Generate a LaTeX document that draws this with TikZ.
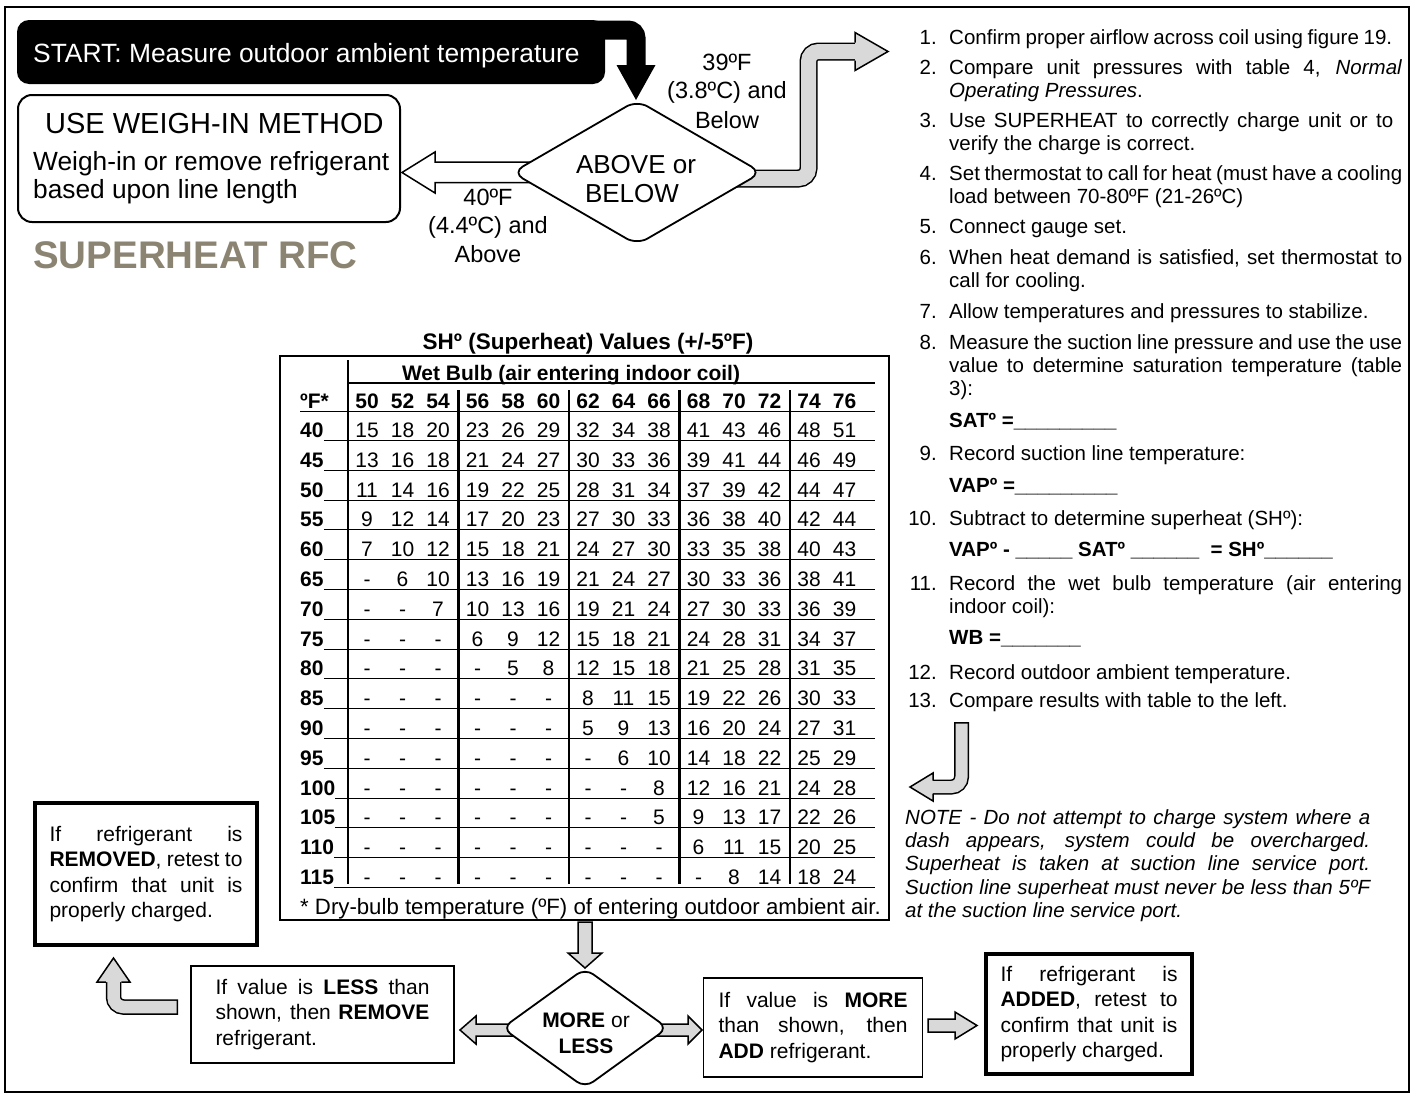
\documentclass[tikz,border=0pt]{standalone}
\usepackage{fontspec}
\setmainfont{Liberation Sans}
\usetikzlibrary{shapes.geometric}
\definecolor{agray}{RGB}{217,217,217}
\definecolor{shcol}{RGB}{140,132,114}
\newcommand\myfs[1]{\fontsize{#1}{#1}\selectfont}
\newcommand\jline[2]{\makebox[#1pt][s]{#2}}
\newcommand\shrow[3]{%
  \pgfmathsetmacro\yb{437.5+29.8*#1}%
  \node[tbb, anchor=base west] (lab#1) at (300,\yb) {#2};%
  \draw[line width=1pt] ([yshift=-3pt]lab#1.base east) -- (875,\yb+3);%
  \foreach \v [count=\c from 0] in {#3} {%
    \pgfmathtruncatemacro\g{\c/3}%
    \pgfmathsetmacro\xx{367+110.5*\g+35.5*(\c-3*\g)}%
    \node[tb] (v#1-\c) at (\xx,\yb) {\v};%
  }%
}
\tikzset{
 txt/.style={anchor=base west, inner sep=0pt, font=\myfs{20.5}},
 num/.style={anchor=base east, inner sep=0pt, font=\myfs{20.5}},
 fld/.style={anchor=base west, inner sep=0pt, font=\bfseries\myfs{20.5}},
 note/.style={anchor=base west, inner sep=0pt, font=\itshape\myfs{20.5}},
 tb/.style={anchor=base, inner sep=0pt, font=\myfs{21}},
 tbb/.style={anchor=base, inner sep=0pt, font=\bfseries\myfs{21}},
 lbl/.style={anchor=base, inner sep=0pt, font=\myfs{23.5}},
 dtxt/.style={anchor=base, inner sep=0pt, font=\myfs{26}},
 boxtxt/.style={draw, line width=1.5pt, align=left, inner sep=0pt, font=\fontsize{21}{25.5}\selectfont},
 blockarrow/.style={fill=agray, draw=black, line width=1.5pt},
 shaftout/.style={draw=black, line width=#1},
 shaftin/.style={draw=agray, line width=#1},
}
\begin{document}
\begin{tikzpicture}[x=1pt, y=-1pt, line join=miter]
\useasboundingbox (0,0) rectangle (1413,1095);
\draw[line width=1.5pt] (5,7) rectangle (1409,1092);

% ---------- START ----------
\node[fill=black, rounded corners=12pt, minimum width=588pt, minimum height=64pt, anchor=north west, inner sep=0pt, outer sep=0pt] (start) at (17,20) {};
\node[anchor=base west, inner sep=0pt, text=white, font=\myfs{26.4}] (starttxt) at (33,62) {START: Measure outdoor ambient temperature};
\draw[line width=19pt, rounded corners=8pt] (590,30) -- (636,30) -- (636,66);
\fill (616.5,65) -- (655.5,65) -- (636,100) -- cycle;

% ---------- arrows out of first decision ----------
\filldraw[fill=white, line width=1.5pt] (530,162) -- (435,162) -- (435,152) -- (402,172.5) -- (435,193) -- (435,182.5) -- (530,182.5) -- cycle;
\draw[shaftout=18pt, rounded corners=10pt] (735,178.5) -- (808.5,178.5) -- (808.5,51.5) -- (855,51.5);
\draw[shaftin=15pt, rounded corners=10pt, shorten >=-1pt] (735,178.5) -- (808.5,178.5) -- (808.5,51.5) -- (855,51.5);
\fill[agray] (855,32.5) -- (888,51.5) -- (855,70.5) -- cycle;
\draw[line width=1.5pt] (855,42.5) -- (855,32.5) -- (888,51.5) -- (855,70.5) -- (855,60.5);

% ---------- first decision ----------
\node[diamond, draw, fill=white, line width=1.8pt, minimum width=250pt, minimum height=145pt, inner sep=0pt, rounded corners=12pt] (dec1) at (637,172.5) {};
\node[dtxt] (dec1a) at (636,173) {ABOVE or};
\node[dtxt] (dec1b) at (632,202) {BELOW};

\node[lbl] (l39a) at (727,70) {39ºF};
\node[lbl] (l39b) at (727,98) {(3.8ºC) and};
\node[lbl] (l39c) at (727,128) {Below};
\node[lbl] (l40a) at (488,205) {40ºF};
\node[lbl] (l40b) at (488,233) {(4.4ºC) and};
\node[lbl] (l40c) at (488,262) {Above};

% ---------- weigh-in box ----------
\node[draw, line width=2pt, rounded corners=14pt, minimum width=382pt, minimum height=127pt, anchor=north west, inner sep=0pt, outer sep=0pt] (weigh) at (18,95) {};
\node[anchor=base west, inner sep=0pt, font=\myfs{29}] (w1) at (45,133) {USE WEIGH-IN METHOD};
\node[anchor=base west, inner sep=0pt, font=\myfs{26.3}] (w2) at (33,170) {Weigh-in or remove refrigerant};
\node[anchor=base west, inner sep=0pt, font=\myfs{26.3}] (w3) at (33,198) {based upon line length};
\node[anchor=base west, inner sep=0pt, font=\bfseries\myfs{38.5}, text=shcol] (rfc) at (33,268) {SUPERHEAT RFC};

% ---------- right column ----------
\node[num] (n1) at (937,44) {1.};
\node[txt] (t1) at (949,44) {\jline{443}{Confirm proper airflow across coil using figure 19.}};
\node[num] (n2) at (937,74) {2.};
\node[txt] (t2a) at (949,74) {\jline{453}{Compare unit pressures with table 4, \textit{Normal}}};
\node[txt] (t2b) at (949,97) {\textit{Operating Pressures}.};
\node[num] (n3) at (937,127) {3.};
\node[txt] (t3a) at (949,127) {\jline{444}{Use SUPERHEAT to correctly charge unit or to}};
\node[txt] (t3b) at (949,150) {verify the charge is correct.};
\node[num] (n4) at (937,180) {4.};
\node[txt] (t4a) at (949,180) {\jline{453}{Set thermostat to call for heat (must have a cooling}};
\node[txt] (t4b) at (949,203) {load between 70-80ºF (21-26ºC)};
\node[num] (n5) at (937,233) {5.};
\node[txt] (t5) at (949,233) {Connect gauge set.};
\node[num] (n6) at (937,264) {6.};
\node[txt] (t6a) at (949,264) {\jline{453}{When heat demand is satisfied, set thermostat to}};
\node[txt] (t6b) at (949,287) {call for cooling.};
\node[num] (n7) at (937,318) {7.};
\node[txt] (t7) at (949,318) {Allow temperatures and pressures to stabilize.};
\node[num] (n8) at (937,349) {8.};
\node[txt] (t8a) at (949,349) {\jline{453}{Measure the suction line pressure and use the use}};
\node[txt] (t8b) at (949,372) {\jline{453}{value to determine saturation temperature (table}};
\node[txt] (t8c) at (949,395) {3):};
\node[fld] (sat) at (949,427) {SATº =\_\_\_\_\_\_\_\_\_};
\node[num] (n9) at (937,460) {9.};
\node[txt] (t9) at (949,460) {Record suction line temperature:};
\node[fld] (vap) at (949,492) {VAPº =\_\_\_\_\_\_\_\_\_};
\node[num] (n10) at (937,525) {10.};
\node[txt] (t10) at (949,525) {Subtract to determine superheat (SHº):};
\node[fld] (eq) at (949,556) {VAPº - \_\_\_\_\_ SATº \_\_\_\_\_\_ \ = SHº\_\_\_\_\_\_};
\node[num] (n11) at (937,590) {11.};
\node[txt] (t11a) at (949,590) {\jline{453}{Record the wet bulb temperature (air entering}};
\node[txt] (t11b) at (949,613) {indoor coil):};
\node[fld] (wbf) at (949,644) {WB =\_\_\_\_\_\_\_};
\node[num] (n12) at (937,679) {12.};
\node[txt] (t12) at (949,679) {Record outdoor ambient temperature.};
\node[num] (n13) at (937,707) {13.};
\node[txt] (t13) at (949,707) {Compare results with table to the left.};

% bent arrow to note
\draw[shaftout=15pt, rounded corners=10pt] (961.5,722) -- (961.5,787) -- (933,787);
\draw[shaftin=12pt, rounded corners=10pt, shorten <=1.5pt, shorten >=-1pt] (961.5,722) -- (961.5,787) -- (933,787);
\fill[agray] (933,773) -- (910,787) -- (933,801) -- cycle;
\draw[line width=1.5pt] (933,780.5) -- (933,773) -- (910,787) -- (933,801) -- (933,793.5);

\node[note] (note1) at (905,824) {\jline{465}{NOTE - Do not attempt to charge system where a}};
\node[note] (note2) at (905,847) {\jline{465}{dash appears, system could be overcharged.}};
\node[note] (note3) at (905,870) {\jline{465}{Superheat is taken at suction line service port.}};
\node[note] (note4) at (905,894) {\jline{465}{Suction line superheat must never be less than 5ºF}};
\node[note] (note5) at (905,917) {at the suction line service port.};

% ---------- table ----------
\node[anchor=base, inner sep=0pt, font=\bfseries\myfs{22.5}] (ttitle) at (588,349) {SHº (Superheat) Values (+/-5ºF)};
\draw[line width=1.5pt] (280,356) rectangle (889,920);
\node[tbb] (wbhead) at (571,380) {Wet Bulb (air entering indoor coil)};
\draw[line width=2.5pt] (348,383) -- (875,383);
\node[tbb, anchor=base west] (hdrF) at (300,408) {ºF*};
\draw[line width=1pt] (300,411) -- (875,411);
\foreach \v [count=\c from 0] in {50,52,54,56,58,60,62,64,66,68,70,72,74,76} {
  \pgfmathtruncatemacro\g{\c/3}
  \pgfmathsetmacro\xx{367+110.5*\g+35.5*(\c-3*\g)}
  \node[tbb] (h\c) at (\xx,408) {\v};
}
\shrow{0}{40}{15,18,20,23,26,29,32,34,38,41,43,46,48,51}
\shrow{1}{45}{13,16,18,21,24,27,30,33,36,39,41,44,46,49}
\shrow{2}{50}{11,14,16,19,22,25,28,31,34,37,39,42,44,47}
\shrow{3}{55}{9,12,14,17,20,23,27,30,33,36,38,40,42,44}
\shrow{4}{60}{7,10,12,15,18,21,24,27,30,33,35,38,40,43}
\shrow{5}{65}{-,6,10,13,16,19,21,24,27,30,33,36,38,41}
\shrow{6}{70}{-,-,7,10,13,16,19,21,24,27,30,33,36,39}
\shrow{7}{75}{-,-,-,6,9,12,15,18,21,24,28,31,34,37}
\shrow{8}{80}{-,-,-,-,5,8,12,15,18,21,25,28,31,35}
\shrow{9}{85}{-,-,-,-,-,-,8,11,15,19,22,26,30,33}
\shrow{10}{90}{-,-,-,-,-,-,5,9,13,16,20,24,27,31}
\shrow{11}{95}{-,-,-,-,-,-,-,6,10,14,18,22,25,29}
\shrow{12}{100}{-,-,-,-,-,-,-,-,8,12,16,21,24,28}
\shrow{13}{105}{-,-,-,-,-,-,-,-,5,9,13,17,22,26}
\shrow{14}{110}{-,-,-,-,-,-,-,-,-,6,11,15,20,25}
\shrow{15}{115}{-,-,-,-,-,-,-,-,-,-,8,14,18,24}
\draw[line width=2.5pt] (348,360) -- (348,884);
\foreach \g in {1,2,3,4} {
  \draw[line width=2.5pt] ({348+110.5*\g},390) -- ({348+110.5*\g},884);
}
\node[anchor=base west, inner sep=0pt, font=\myfs{22.2}] (foot) at (300,914) {* Dry-bulb temperature (ºF) of entering outdoor ambient air.};

% ---------- bottom flow ----------
\filldraw[blockarrow] (578,922) -- (592,922) -- (592,953) -- (602,953) -- (585,968) -- (568,953) -- (578,953) -- cycle;
\filldraw[blockarrow] (525,1024) -- (476,1024) -- (476,1016) -- (460,1030) -- (476,1044) -- (476,1036) -- (525,1036) -- cycle;
\filldraw[blockarrow] (645,1024) -- (688,1024) -- (688,1016) -- (702,1030) -- (688,1044) -- (688,1036) -- (645,1036) -- cycle;
\node[diamond, draw, fill=white, line width=1.8pt, minimum width=166pt, minimum height=120pt, inner sep=0pt, rounded corners=10pt] (dec2) at (585,1028) {};
\node[anchor=base, inner sep=0pt, font=\myfs{21}] (dec2a) at (586,1027) {\textbf{MORE} or};
\node[anchor=base, inner sep=0pt, font=\myfs{21}] (dec2b) at (586,1053) {\textbf{LESS}};

\node[boxtxt, minimum width=263pt, minimum height=97pt] (less) at (322.5,1014.5)
  {\jline{214}{If value is \textbf{LESS} than}\\\jline{214}{shown, then \textbf{REMOVE}}\\refrigerant.};
\node[boxtxt, line width=4.5pt, minimum width=222pt, minimum height=142pt] (removed) at (146,874)
  {\jline{193}{If refrigerant is}\\\jline{193}{\textbf{REMOVED}, retest to}\\\jline{193}{confirm that unit is}\\properly charged.};
\node[boxtxt, minimum width=219pt, minimum height=99pt] (more) at (813,1027.5)
  {\jline{189}{If value is \textbf{MORE}}\\\jline{189}{than shown, then}\\\textbf{ADD} refrigerant.};
\node[boxtxt, line width=4.5pt, minimum width=206pt, minimum height=120pt] (added) at (1089,1014)
  {\jline{177}{If refrigerant is}\\\jline{177}{\textbf{ADDED}, retest to}\\\jline{177}{confirm that unit is}\\properly charged.};

\filldraw[blockarrow] (928,1019) -- (955,1019) -- (955,1012) -- (977,1025.5) -- (955,1039) -- (955,1032) -- (928,1032) -- cycle;

\draw[shaftout=15.5pt, rounded corners=10pt] (178,1007) -- (113.5,1007) -- (113.5,982);
\draw[shaftin=12.5pt, rounded corners=10pt, shorten <=1.5pt, shorten >=-1pt] (178,1007) -- (113.5,1007) -- (113.5,982);
\fill[agray] (97,982) -- (113.5,958) -- (130,982) -- cycle;
\draw[line width=1.5pt] (105.75,982) -- (97,982) -- (113.5,958) -- (130,982) -- (121.25,982);
\end{tikzpicture}
\end{document}
